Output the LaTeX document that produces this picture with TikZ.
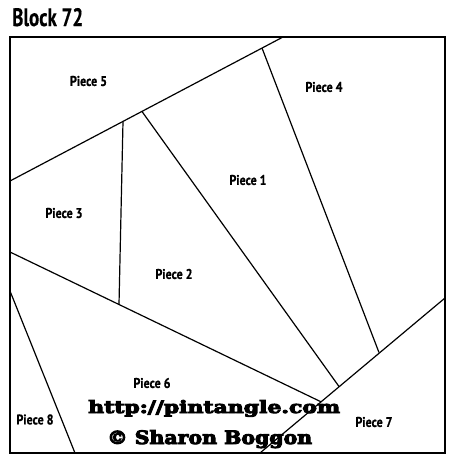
\documentclass[tikz,border=0pt]{standalone}
\usepackage{fontspec}
\usepackage{graphicx}
\setmainfont{PT Sans}[BoldFeatures={FakeBold=0.8}]
\newfontfamily\titlefont{PT Sans}[BoldFeatures={FakeBold=0.4}]
\newfontfamily\slabfont{DejaVu Serif}[BoldFeatures={FakeBold=5}]
\tikzset{
  seam/.style={draw=black, line width=1.2pt},
  frame/.style={draw=black, line width=2.4pt},
  piecelabel/.style={inner sep=0pt, anchor=center},
  credit/.style={inner sep=0pt, anchor=base west},
}
\newcommand{\plab}[1]{\resizebox{37pt}{10pt}{\bfseries #1}}
\begin{document}
\begin{tikzpicture}[x=1pt,y=-1pt]
\useasboundingbox (0,0) rectangle (450,459);
% corners
\coordinate (tl) at (10,37);
\coordinate (br) at (445,453);
% seam end points
\coordinate (a1) at (10,181);
\coordinate (a2) at (283,37);
\coordinate (b1) at (123,121.5);
\coordinate (b2) at (119,304.5);
\coordinate (c1) at (142,111.5);
\coordinate (c2) at (339,386.5);
\coordinate (d1) at (262,48);
\coordinate (d2) at (379,352.5);
\coordinate (e1) at (445,298);
\coordinate (e2) at (260,453);
\coordinate (f1) at (10,252);
\coordinate (f2) at (321,401.8);
\coordinate (g1) at (10,291);
\coordinate (g2) at (75,453);
% seams
\draw[seam] (a1) -- (a2);
\draw[seam] (b1) -- (b2);
\draw[seam] (c1) -- (c2);
\draw[seam] (d1) -- (d2);
\draw[seam] (e1) -- (e2);
\draw[seam] (f1) -- (f2);
\draw[seam] (g1) -- (g2);
% frame
\draw[frame] (tl) rectangle (br);
% title
\node[credit] (title) at (12,26) {\resizebox{71pt}{18pt}{\titlefont\bfseries Block 72}};
% labels
\node[piecelabel] (p5) at (88.5,81) {\plab{Piece 5}};
\node[piecelabel] (p4) at (324,87) {\plab{Piece 4}};
\node[piecelabel] (p1) at (248,180) {\plab{Piece 1}};
\node[piecelabel] (p3) at (64,213) {\plab{Piece 3}};
\node[piecelabel] (p2) at (174,274) {\plab{Piece 2}};
\node[piecelabel] (p6) at (152,383) {\plab{Piece 6}};
\node[piecelabel] (p8) at (35,419.5) {\plab{Piece 8}};
\node[piecelabel] (p7) at (374,422) {\plab{Piece 7}};
% credits
\node[credit] (url) at (88,413) {\resizebox{252pt}{13pt}{\slabfont\bfseries http://pintangle.com}};
\node[credit] (copy) at (107,444) {\resizebox{205pt}{14pt}{\slabfont\bfseries © Sharon Boggon}};
\end{tikzpicture}
\end{document}
